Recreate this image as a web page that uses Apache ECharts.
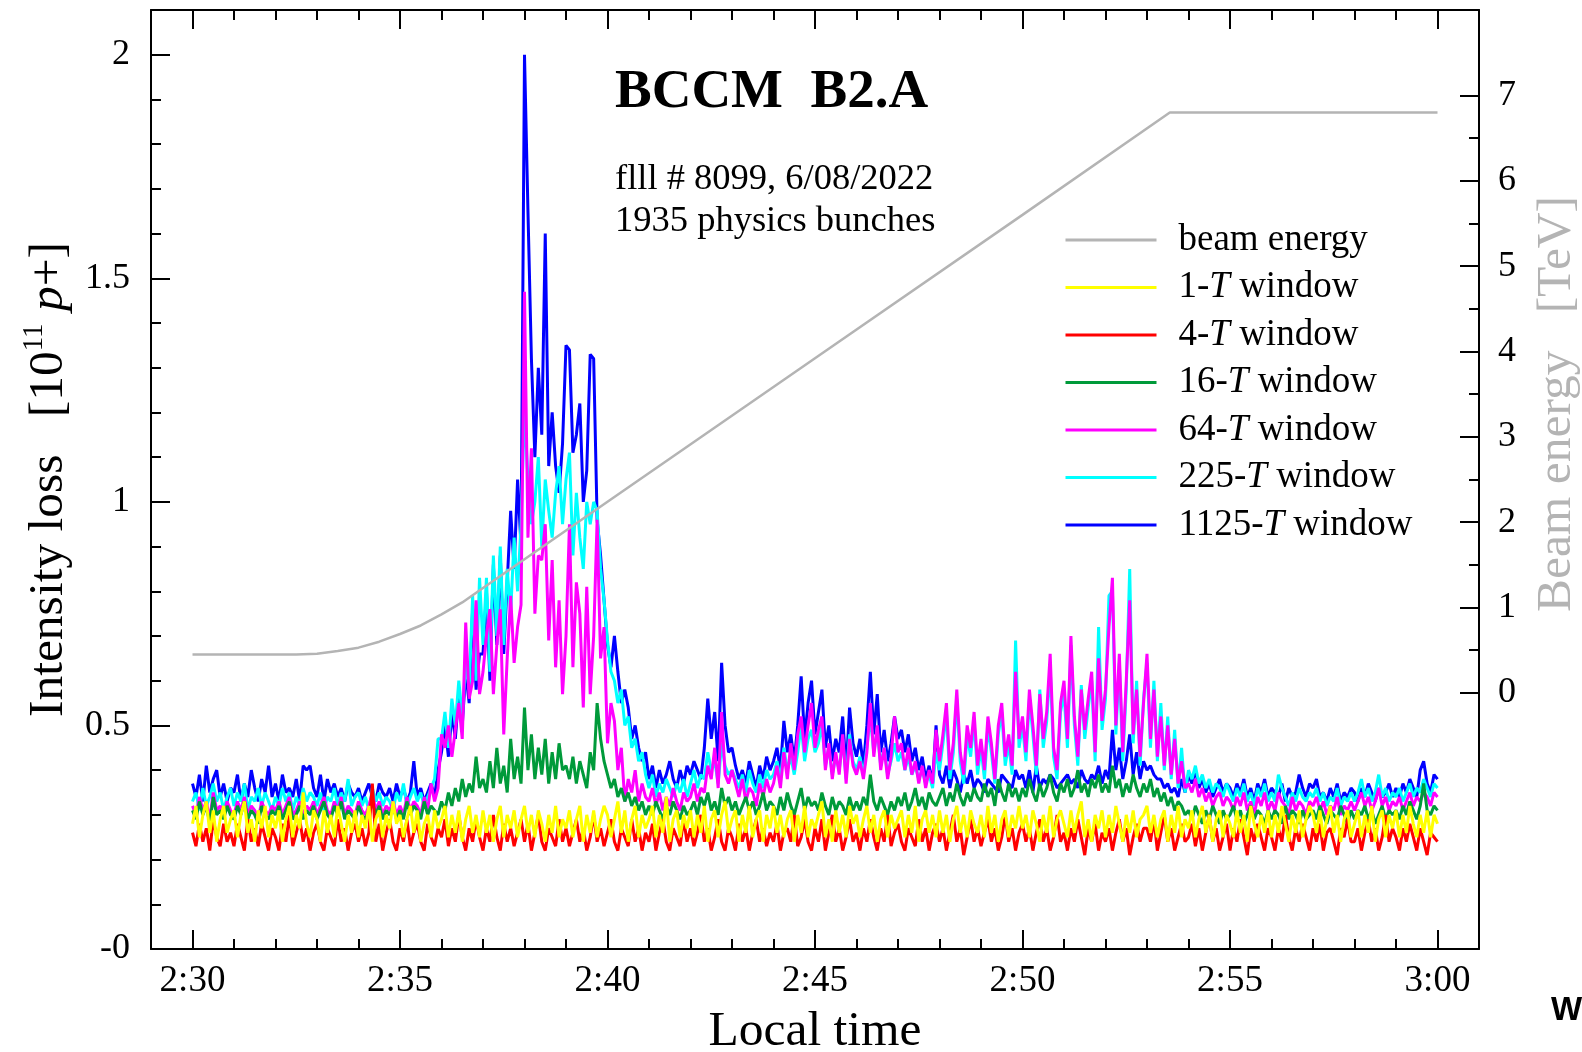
<!DOCTYPE html>
<html>
<head>
<meta charset="utf-8">
<title>BCCM B2.A intensity loss</title>
<script src="https://cdn.jsdelivr.net/npm/echarts@6/dist/echarts.min.js"></script>
<style>
    html, body { margin: 0; padding: 0; background: #fff; }
    #chart { width: 1582px; height: 1052px; }
</style>
</head>
<body>
<div id="chart"></div>
<script>

// one reading every 5 s, from 2:30:00 to 3:00:00 (time in minutes after midnight)
const start_min = 150;
const step_min = 5 / 60;

// intensity loss [1e11 p+], one line per minute (12 readings)
const loss_1125T = [
    0.37,0.34,0.39,0.33,0.41,0.35,0.38,0.40,0.34,0.37,0.33,0.36,
    0.35,0.39,0.33,0.37,0.34,0.40,0.36,0.33,0.38,0.35,0.41,0.34,
    0.37,0.33,0.39,0.35,0.36,0.34,0.38,0.33,0.41,0.40,0.41,0.36,
    0.34,0.39,0.33,0.38,0.35,0.37,0.34,0.36,0.33,0.37,0.35,0.34,
    0.36,0.33,0.35,0.37,0.34,0.33,0.37,0.35,0.34,0.36,0.33,0.37,
    0.34,0.36,0.33,0.35,0.42,0.34,0.36,0.33,0.35,0.37,0.34,0.40,
    0.44,0.50,0.43,0.53,0.47,0.57,0.50,0.62,0.55,0.76,0.58,0.66,
    0.66,0.80,0.60,0.86,0.68,0.88,0.66,0.82,0.98,0.85,1.05,0.90,
    2.00,1.65,1.32,1.10,1.30,1.15,1.60,1.08,1.20,1.08,1.02,1.13,
    1.35,1.34,1.11,1.15,1.22,1.00,1.07,1.33,1.32,0.96,0.88,0.78,
    0.68,0.63,0.70,0.62,0.55,0.58,0.54,0.47,0.50,0.45,0.42,0.44,
    0.38,0.41,0.36,0.40,0.37,0.39,0.42,0.38,0.36,0.40,0.37,0.41,
    0.39,0.42,0.40,0.38,0.45,0.56,0.47,0.53,0.42,0.64,0.50,0.44,
    0.45,0.41,0.38,0.40,0.37,0.42,0.39,0.36,0.41,0.38,0.43,0.40,
    0.42,0.45,0.40,0.51,0.44,0.48,0.42,0.50,0.61,0.47,0.55,0.60,
    0.48,0.53,0.58,0.45,0.50,0.42,0.47,0.44,0.52,0.40,0.54,0.46,
    0.43,0.47,0.41,0.50,0.62,0.48,0.57,0.44,0.49,0.42,0.46,0.52,
    0.47,0.49,0.44,0.48,0.42,0.45,0.40,0.43,0.38,0.41,0.37,0.50,
    0.39,0.37,0.41,0.36,0.40,0.38,0.35,0.39,0.37,0.40,0.36,0.38,
    0.37,0.35,0.38,0.37,0.36,0.35,0.39,0.38,0.37,0.36,0.40,0.38,
    0.39,0.36,0.40,0.35,0.41,0.36,0.38,0.37,0.39,0.38,0.36,0.37,
    0.38,0.39,0.37,0.38,0.36,0.40,0.38,0.37,0.39,0.38,0.41,0.37,
    0.40,0.38,0.49,0.40,0.45,0.38,0.42,0.48,0.39,0.44,0.38,0.42,
    0.40,0.41,0.39,0.38,0.38,0.36,0.37,0.35,0.36,0.34,0.38,0.35,
    0.39,0.37,0.40,0.36,0.38,0.35,0.37,0.34,0.36,0.38,0.35,0.37,
    0.36,0.34,0.37,0.35,0.38,0.34,0.36,0.33,0.37,0.35,0.38,0.34,
    0.36,0.35,0.34,0.37,0.33,0.36,0.34,0.35,0.39,0.36,0.34,0.37,
    0.36,0.38,0.34,0.35,0.33,0.36,0.34,0.37,0.33,0.35,0.34,0.36,
    0.35,0.33,0.36,0.34,0.37,0.35,0.33,0.36,0.34,0.35,0.37,0.34,
    0.36,0.34,0.37,0.35,0.38,0.36,0.34,0.40,0.42,0.37,0.35,0.39,
    0.38
];

const loss_225T = [
    0.33,0.35,0.31,0.36,0.32,0.34,0.37,0.33,0.35,0.31,0.34,0.36,
    0.32,0.35,0.33,0.37,0.31,0.34,0.33,0.36,0.32,0.35,0.33,0.31,
    0.34,0.32,0.36,0.33,0.35,0.31,0.34,0.32,0.36,0.33,0.35,0.34,
    0.32,0.35,0.31,0.34,0.33,0.36,0.32,0.35,0.33,0.38,0.32,0.34,
    0.35,0.32,0.34,0.31,0.36,0.33,0.35,0.32,0.34,0.33,0.31,0.35,
    0.33,0.37,0.32,0.34,0.36,0.33,0.35,0.32,0.34,0.36,0.38,0.47,
    0.47,0.53,0.45,0.56,0.50,0.60,0.52,0.64,0.58,0.79,0.60,0.83,
    0.68,0.83,0.62,0.88,0.70,0.90,0.68,0.85,0.75,0.92,0.80,0.95,
    1.21,1.05,0.95,1.00,1.10,0.90,1.05,0.98,0.92,1.02,1.08,0.95,
    1.05,1.11,0.88,1.02,0.92,0.85,1.00,0.95,1.00,0.98,0.85,0.78,
    0.69,0.62,0.60,0.55,0.58,0.50,0.52,0.45,0.47,0.42,0.44,0.39,
    0.36,0.39,0.34,0.37,0.35,0.38,0.36,0.34,0.37,0.35,0.38,0.34,
    0.37,0.40,0.36,0.39,0.38,0.44,0.40,0.42,0.37,0.46,0.41,0.39,
    0.40,0.38,0.36,0.39,0.35,0.40,0.37,0.35,0.39,0.36,0.40,0.38,
    0.39,0.42,0.38,0.45,0.40,0.43,0.39,0.44,0.50,0.42,0.47,0.49,
    0.44,0.46,0.50,0.41,0.45,0.39,0.43,0.40,0.47,0.38,0.48,0.42,
    0.40,0.43,0.39,0.45,0.52,0.44,0.49,0.41,0.45,0.39,0.42,0.46,
    0.42,0.44,0.40,0.43,0.39,0.41,0.38,0.40,0.37,0.39,0.36,0.44,
    0.40,0.46,0.53,0.38,0.44,0.56,0.42,0.37,0.48,0.43,0.51,0.39,
    0.45,0.38,0.50,0.44,0.37,0.48,0.53,0.41,0.46,0.39,0.69,0.45,
    0.50,0.42,0.56,0.48,0.39,0.58,0.45,0.51,0.63,0.43,0.38,0.53,
    0.57,0.45,0.68,0.50,0.41,0.59,0.47,0.54,0.60,0.42,0.72,0.49,
    0.56,0.79,0.80,0.48,0.64,0.42,0.58,0.85,0.46,0.60,0.41,0.56,
    0.64,0.45,0.60,0.42,0.55,0.40,0.52,0.38,0.49,0.36,0.45,0.35,
    0.40,0.38,0.41,0.37,0.39,0.36,0.38,0.35,0.37,0.36,0.34,0.37,
    0.35,0.33,0.36,0.34,0.37,0.33,0.35,0.32,0.36,0.34,0.37,0.33,
    0.35,0.33,0.39,0.36,0.34,0.32,0.35,0.33,0.36,0.34,0.33,0.35,
    0.34,0.36,0.33,0.35,0.32,0.34,0.33,0.36,0.32,0.34,0.33,0.35,
    0.33,0.35,0.38,0.34,0.36,0.33,0.35,0.39,0.34,0.36,0.33,0.35,
    0.34,0.36,0.33,0.35,0.37,0.34,0.36,0.35,0.38,0.36,0.34,0.37,
    0.36
];

const loss_64T = [
    0.32,0.30,0.34,0.31,0.33,0.29,0.35,0.31,0.32,0.30,0.33,0.31,
    0.30,0.33,0.31,0.34,0.30,0.32,0.31,0.29,0.33,0.31,0.30,0.32,
    0.31,0.33,0.30,0.32,0.34,0.30,0.31,0.33,0.30,0.32,0.31,0.33,
    0.30,0.32,0.34,0.31,0.30,0.33,0.31,0.34,0.30,0.32,0.31,0.30,
    0.33,0.31,0.30,0.32,0.35,0.31,0.33,0.30,0.32,0.31,0.33,0.30,
    0.32,0.30,0.34,0.31,0.33,0.32,0.30,0.34,0.31,0.37,0.33,0.36,
    0.48,0.45,0.50,0.43,0.49,0.55,0.47,0.73,0.56,0.60,0.78,0.57,
    0.62,0.70,0.76,0.57,0.68,0.76,0.48,0.65,0.79,0.64,0.72,0.77,
    1.47,0.92,1.12,0.75,0.88,0.87,0.95,0.69,0.87,0.63,0.78,0.57,
    0.70,0.95,0.63,0.82,0.75,0.54,0.81,0.57,0.70,0.96,0.65,0.72,
    0.46,0.55,0.51,0.40,0.45,0.33,0.38,0.35,0.40,0.33,0.37,0.34,
    0.33,0.36,0.32,0.35,0.31,0.34,0.32,0.36,0.33,0.31,0.35,0.33,
    0.34,0.37,0.33,0.36,0.35,0.41,0.38,0.45,0.36,0.53,0.39,0.37,
    0.40,0.37,0.34,0.38,0.33,0.36,0.35,0.32,0.37,0.34,0.38,0.35,
    0.37,0.41,0.36,0.44,0.38,0.46,0.40,0.48,0.52,0.44,0.50,0.55,
    0.45,0.49,0.52,0.40,0.46,0.38,0.44,0.39,0.48,0.37,0.47,0.41,
    0.39,0.42,0.38,0.44,0.55,0.43,0.50,0.40,0.45,0.38,0.43,0.52,
    0.44,0.46,0.40,0.45,0.39,0.42,0.37,0.41,0.36,0.40,0.37,0.49,
    0.42,0.48,0.55,0.40,0.46,0.58,0.44,0.39,0.50,0.45,0.53,0.41,
    0.47,0.40,0.52,0.46,0.38,0.50,0.55,0.43,0.48,0.41,0.62,0.47,
    0.52,0.44,0.58,0.50,0.41,0.57,0.47,0.53,0.66,0.45,0.40,0.55,
    0.60,0.47,0.70,0.52,0.43,0.58,0.49,0.56,0.62,0.44,0.65,0.51,
    0.58,0.72,0.83,0.50,0.66,0.44,0.60,0.78,0.48,0.58,0.43,0.55,
    0.66,0.47,0.58,0.43,0.52,0.41,0.50,0.39,0.47,0.37,0.42,0.36,
    0.37,0.35,0.38,0.34,0.36,0.33,0.35,0.32,0.34,0.35,0.32,0.34,
    0.33,0.31,0.34,0.32,0.35,0.31,0.33,0.30,0.34,0.32,0.35,0.31,
    0.33,0.31,0.35,0.33,0.32,0.30,0.34,0.31,0.33,0.32,0.30,0.33,
    0.32,0.34,0.31,0.33,0.30,0.32,0.31,0.34,0.30,0.32,0.31,0.33,
    0.31,0.33,0.35,0.32,0.34,0.31,0.33,0.36,0.32,0.34,0.31,0.33,
    0.32,0.34,0.31,0.33,0.35,0.32,0.34,0.33,0.35,0.34,0.32,0.35,
    0.34
];

const loss_16T = [
    0.31,0.29,0.33,0.30,0.32,0.28,0.34,0.30,0.31,0.29,0.32,0.30,
    0.29,0.32,0.30,0.33,0.29,0.31,0.30,0.28,0.32,0.30,0.29,0.31,
    0.30,0.32,0.29,0.31,0.33,0.29,0.30,0.32,0.29,0.31,0.30,0.32,
    0.29,0.31,0.33,0.30,0.29,0.32,0.30,0.33,0.29,0.31,0.30,0.29,
    0.32,0.30,0.29,0.31,0.33,0.30,0.32,0.29,0.31,0.30,0.32,0.29,
    0.31,0.29,0.33,0.30,0.32,0.31,0.29,0.33,0.30,0.32,0.31,0.30,
    0.33,0.31,0.35,0.32,0.36,0.33,0.38,0.34,0.37,0.35,0.43,0.36,
    0.38,0.35,0.42,0.36,0.45,0.37,0.41,0.35,0.47,0.38,0.43,0.37,
    0.54,0.40,0.48,0.38,0.45,0.39,0.47,0.37,0.44,0.38,0.46,0.40,
    0.41,0.38,0.43,0.37,0.42,0.39,0.36,0.44,0.40,0.55,0.47,0.42,
    0.39,0.36,0.38,0.34,0.36,0.33,0.35,0.32,0.34,0.31,0.33,0.30,
    0.32,0.30,0.33,0.31,0.29,0.32,0.30,0.33,0.31,0.29,0.32,0.30,
    0.31,0.33,0.30,0.34,0.32,0.35,0.31,0.33,0.30,0.36,0.32,0.34,
    0.31,0.33,0.30,0.32,0.34,0.31,0.33,0.30,0.32,0.35,0.31,0.33,
    0.32,0.30,0.34,0.31,0.35,0.32,0.30,0.33,0.36,0.31,0.34,0.32,
    0.33,0.31,0.35,0.32,0.30,0.34,0.31,0.33,0.32,0.30,0.34,0.31,
    0.33,0.31,0.34,0.32,0.39,0.33,0.31,0.34,0.32,0.30,0.33,0.31,
    0.34,0.32,0.35,0.31,0.33,0.36,0.32,0.34,0.31,0.35,0.33,0.32,
    0.34,0.36,0.32,0.35,0.33,0.37,0.34,0.32,0.35,0.33,0.36,0.34,
    0.33,0.37,0.34,0.36,0.32,0.38,0.35,0.33,0.37,0.34,0.36,0.33,
    0.36,0.34,0.38,0.35,0.33,0.37,0.34,0.36,0.39,0.35,0.33,0.37,
    0.35,0.38,0.34,0.36,0.40,0.35,0.37,0.34,0.38,0.36,0.39,0.35,
    0.37,0.35,0.41,0.36,0.38,0.34,0.37,0.35,0.39,0.36,0.34,0.37,
    0.35,0.38,0.34,0.36,0.33,0.35,0.32,0.34,0.31,0.33,0.32,0.30,
    0.31,0.29,0.32,0.30,0.28,0.31,0.29,0.32,0.30,0.28,0.31,0.29,
    0.30,0.32,0.29,0.31,0.28,0.30,0.32,0.29,0.31,0.30,0.28,0.31,
    0.29,0.31,0.30,0.28,0.32,0.29,0.31,0.30,0.28,0.31,0.29,0.30,
    0.31,0.29,0.32,0.30,0.28,0.31,0.30,0.29,0.32,0.30,0.28,0.31,
    0.29,0.31,0.30,0.32,0.29,0.31,0.28,0.30,0.32,0.29,0.31,0.30,
    0.31,0.29,0.32,0.30,0.33,0.31,0.29,0.32,0.37,0.31,0.30,0.32,
    0.31
];

const loss_4T = [
    0.26,0.23,0.28,0.24,0.27,0.22,0.29,0.25,0.23,0.28,0.24,0.26,
    0.23,0.28,0.25,0.22,0.29,0.24,0.27,0.23,0.28,0.25,0.22,0.27,
    0.25,0.22,0.28,0.24,0.30,0.23,0.26,0.29,0.24,0.27,0.22,0.26,
    0.28,0.24,0.22,0.27,0.25,0.23,0.29,0.24,0.27,0.22,0.26,0.28,
    0.24,0.27,0.23,0.26,0.37,0.24,0.28,0.22,0.26,0.29,0.24,0.22,
    0.27,0.24,0.29,0.23,0.26,0.28,0.24,0.22,0.28,0.25,0.23,0.27,
    0.25,0.29,0.23,0.27,0.24,0.30,0.25,0.22,0.27,0.24,0.29,0.25,
    0.22,0.27,0.24,0.30,0.25,0.22,0.28,0.24,0.27,0.23,0.26,0.29,
    0.24,0.28,0.22,0.26,0.30,0.24,0.22,0.27,0.25,0.23,0.29,0.24,
    0.27,0.23,0.26,0.29,0.24,0.27,0.22,0.25,0.30,0.24,0.27,0.23,
    0.26,0.29,0.24,0.22,0.27,0.25,0.23,0.29,0.24,0.27,0.22,0.26,
    0.24,0.28,0.22,0.26,0.29,0.24,0.22,0.27,0.25,0.23,0.29,0.24,
    0.27,0.23,0.26,0.30,0.24,0.27,0.22,0.25,0.29,0.24,0.22,0.27,
    0.25,0.22,0.28,0.24,0.27,0.22,0.26,0.29,0.24,0.27,0.23,0.26,
    0.24,0.28,0.22,0.26,0.27,0.24,0.30,0.23,0.25,0.29,0.24,0.22,
    0.27,0.24,0.29,0.22,0.26,0.30,0.24,0.27,0.22,0.25,0.29,0.24,
    0.26,0.22,0.27,0.24,0.29,0.25,0.22,0.27,0.24,0.30,0.23,0.26,
    0.28,0.24,0.22,0.27,0.25,0.23,0.29,0.24,0.27,0.22,0.26,0.28,
    0.24,0.27,0.22,0.26,0.30,0.24,0.27,0.21,0.25,0.29,0.24,0.27,
    0.23,0.26,0.29,0.24,0.27,0.22,0.25,0.30,0.24,0.27,0.22,0.26,
    0.28,0.24,0.27,0.22,0.26,0.29,0.24,0.27,0.22,0.25,0.30,0.24,
    0.26,0.22,0.27,0.24,0.29,0.25,0.21,0.27,0.24,0.28,0.22,0.26,
    0.24,0.27,0.22,0.26,0.29,0.24,0.27,0.21,0.25,0.28,0.24,0.27,
    0.27,0.24,0.29,0.22,0.26,0.30,0.24,0.27,0.22,0.25,0.28,0.24,
    0.25,0.28,0.23,0.27,0.22,0.26,0.30,0.24,0.27,0.22,0.25,0.28,
    0.22,0.27,0.24,0.29,0.25,0.21,0.27,0.24,0.28,0.25,0.22,0.27,
    0.25,0.22,0.27,0.24,0.30,0.25,0.22,0.27,0.24,0.28,0.25,0.22,
    0.27,0.24,0.28,0.22,0.26,0.27,0.24,0.21,0.27,0.25,0.29,0.24,
    0.24,0.27,0.22,0.26,0.29,0.24,0.27,0.22,0.25,0.30,0.24,0.27,
    0.25,0.22,0.27,0.24,0.28,0.25,0.22,0.27,0.24,0.21,0.26,0.25,
    0.24
];

const loss_1T = [
    0.28,0.32,0.25,0.30,0.33,0.26,0.31,0.24,0.29,0.32,0.26,0.29,
    0.31,0.25,0.30,0.33,0.26,0.29,0.24,0.31,0.27,0.32,0.25,0.30,
    0.27,0.31,0.24,0.29,0.32,0.25,0.30,0.27,0.35,0.28,0.25,0.31,
    0.29,0.24,0.31,0.26,0.30,0.25,0.32,0.28,0.24,0.30,0.26,0.31,
    0.25,0.30,0.27,0.32,0.24,0.29,0.31,0.25,0.30,0.27,0.33,0.28,
    0.30,0.25,0.29,0.32,0.26,0.31,0.24,0.28,0.30,0.25,0.31,0.27,
    0.29,0.32,0.25,0.30,0.26,0.31,0.24,0.29,0.32,0.26,0.30,0.25,
    0.31,0.26,0.30,0.24,0.29,0.32,0.25,0.30,0.27,0.31,0.25,0.29,
    0.32,0.26,0.30,0.25,0.31,0.28,0.24,0.30,0.26,0.32,0.25,0.29,
    0.27,0.31,0.25,0.29,0.32,0.24,0.30,0.26,0.31,0.25,0.29,0.32,
    0.30,0.25,0.29,0.33,0.26,0.31,0.24,0.29,0.32,0.25,0.30,0.27,
    0.29,0.32,0.25,0.30,0.26,0.34,0.24,0.29,0.31,0.25,0.30,0.27,
    0.31,0.25,0.30,0.26,0.32,0.24,0.29,0.31,0.25,0.30,0.33,0.26,
    0.29,0.31,0.24,0.30,0.26,0.32,0.25,0.29,0.31,0.24,0.30,0.27,
    0.32,0.26,0.30,0.25,0.29,0.31,0.24,0.30,0.26,0.32,0.25,0.29,
    0.27,0.30,0.33,0.25,0.29,0.24,0.31,0.26,0.30,0.25,0.32,0.28,
    0.30,0.25,0.29,0.32,0.26,0.30,0.24,0.29,0.31,0.25,0.30,0.27,
    0.29,0.31,0.25,0.30,0.26,0.32,0.24,0.29,0.31,0.26,0.30,0.25,
    0.31,0.26,0.30,0.24,0.29,0.32,0.26,0.30,0.25,0.31,0.28,0.26,
    0.30,0.25,0.32,0.26,0.30,0.24,0.29,0.31,0.25,0.30,0.27,0.32,
    0.27,0.30,0.25,0.31,0.28,0.24,0.30,0.26,0.32,0.25,0.29,0.31,
    0.28,0.25,0.31,0.26,0.30,0.33,0.25,0.29,0.24,0.30,0.27,0.31,
    0.25,0.30,0.26,0.32,0.28,0.24,0.30,0.26,0.31,0.25,0.29,0.30,
    0.32,0.26,0.30,0.25,0.29,0.31,0.24,0.30,0.26,0.32,0.25,0.29,
    0.27,0.31,0.25,0.29,0.32,0.26,0.30,0.24,0.29,0.31,0.25,0.30,
    0.28,0.25,0.31,0.26,0.30,0.24,0.32,0.28,0.25,0.30,0.26,0.31,
    0.25,0.30,0.26,0.32,0.28,0.24,0.30,0.26,0.31,0.25,0.29,0.32,
    0.30,0.26,0.31,0.25,0.29,0.32,0.26,0.30,0.24,0.29,0.31,0.25,
    0.28,0.31,0.25,0.30,0.26,0.32,0.24,0.29,0.31,0.25,0.30,0.27,
    0.31,0.25,0.30,0.26,0.32,0.28,0.25,0.30,0.26,0.31,0.25,0.30,
    0.28
];

// beam energy [TeV], read at the corners of the ramp
const beam_time = [150, 152.5, 153, 153.5, 154, 154.5, 155, 155.5, 156, 156.5, 157, 160, 165, 170, 173.55, 180];
const beam_energy = [0.45, 0.45, 0.46, 0.49, 0.53, 0.60, 0.69, 0.79, 0.92, 1.06, 1.23, 2.24, 3.92, 5.60, 6.80, 6.80];

// ticks and labels
const x_major = [150, 155, 160, 165, 170, 175, 180];
const x_minor = [150,151,152,153,154,155,156,157,158,159,160,161,162,163,164,165,166,167,168,169,170,171,172,173,174,175,176,177,178,179,180];
const y_major = [0, 0.5, 1, 1.5, 2];
const y_minor = [0.1,0.2,0.3,0.4,0.5,0.6,0.7,0.8,0.9,1.0,1.1,1.2,1.3,1.4,1.5,1.6,1.7,1.8,1.9,2.0];
const e_major = [0, 1, 2, 3, 4, 5, 6, 7];
const e_minor = [0.5, 1.5, 2.5, 3.5, 4.5, 5.5, 6.5];

const FONT = "'Liberation Serif', 'Times New Roman', serif";
const BLACK = '#000';
const GREY = '#b4b4b4';

function clock(v){
    let m = v % 60;
    return Math.floor(v / 60) + ':' + (m < 10 ? '0' + m : m);
}

function pairs(values){
    return values.map(function(v, i){ return [start_min + i * step_min, v]; });
}

function tick_style(len, values){
    return { inside: true, length: len, customValues: values, lineStyle: { color: BLACK, width: 2 } };
}

function x_axis(position, major){
    return {
        type: 'value', min: 149, max: 181, position: position,
        axisLine: { show: major, onZero: false, lineStyle: { color: BLACK, width: 2 } },
        axisTick: major ? tick_style(19, x_major) : tick_style(10, x_minor),
        axisLabel: { show: false },
        splitLine: { show: false }
    };
}

function y_axis(position, min, max, line, ticks){
    return {
        type: 'value', min: min, max: max, position: position,
        axisLine: { show: line, onZero: false, lineStyle: { color: BLACK, width: 2 } },
        axisTick: ticks,
        axisLabel: { show: false },
        splitLine: { show: false }
    };
}

function loss_series(name, color, values){
    return {
        name: name,
        type: 'line',
        xAxisIndex: 0,
        yAxisIndex: 0,
        data: pairs(values),
        symbol: 'none',
        lineStyle: { color: color, width: 3 },
        itemStyle: { color: color },
        silent: true
    };
}

// bottom axis with labels and title
let x_bottom = x_axis('bottom', true);
x_bottom.axisLabel = {
    customValues: x_major, formatter: clock,
    fontFamily: FONT, fontSize: 37, color: BLACK, margin: 14
};
x_bottom.name = 'Local time';
x_bottom.nameLocation = 'middle';
x_bottom.nameGap = 58;
x_bottom.nameTextStyle = { fontFamily: FONT, fontSize: 49.5, color: BLACK };

// left axis: intensity loss
let y_left = y_axis('left', 0, 2.1, true, tick_style(19, y_major));
y_left.axisLabel = {
    customValues: y_major,
    formatter: function(v){ return v === 0 ? '-0' : String(v); },
    fontFamily: FONT, fontSize: 36, color: BLACK, margin: 21
};
y_left.name = '{a|Intensity loss   [10}{s|11}{a| }{i|p}{a|+]}';
y_left.nameLocation = 'middle';
y_left.nameRotate = 90;
y_left.nameGap = 69;
y_left.nameTextStyle = {
    fontFamily: FONT, fontSize: 49.5, color: BLACK,
    rich: {
        a: { fontFamily: FONT, fontSize: 49.5, lineHeight: 58, color: BLACK },
        s: { fontFamily: FONT, fontSize: 29, lineHeight: 29, verticalAlign: 'top', color: BLACK },
        i: { fontFamily: FONT, fontSize: 49.5, lineHeight: 58, fontStyle: 'italic', color: BLACK }
    }
};

// right axis: beam energy
let y_right = y_axis('right', -3, 8, true, tick_style(19, e_major));
y_right.axisLabel = {
    customValues: e_major,
    fontFamily: FONT, fontSize: 36, color: BLACK, margin: 19
};

let italic_rich = { i: { fontFamily: FONT, fontSize: 37, lineHeight: 40, fontStyle: 'italic', color: BLACK } };

let options = {
    animation: false,
    backgroundColor: '#fff',
    grid: { left: 151, top: 10, width: 1328, height: 939, containLabel: false, outerBoundsMode: 'none' },
    xAxis: [
        x_bottom,
        x_axis('bottom', false),
        x_axis('top', true),
        x_axis('top', false)
    ],
    yAxis: [
        y_left,
        y_axis('left', 0, 2.1, false, tick_style(10, y_minor)),
        y_right,
        y_axis('right', -3, 8, false, tick_style(10, e_minor))
    ],
    legend: {
        orient: 'vertical',
        left: 1064,
        top: 220,
        padding: 0,
        itemWidth: 91,
        itemHeight: 14,
        itemGap: 7.5,
        selectedMode: false,
        lineStyle: { width: 3 },
        itemStyle: { opacity: 0 },
        data: ['beam energy', '1-T window', '4-T window', '16-T window', '64-T window', '225-T window', '1125-T window'],
        formatter: function(name){ return name.replace('-T', '-{i|T}'); },
        textStyle: {
            fontFamily: FONT, fontSize: 37, lineHeight: 40, color: BLACK,
            padding: [0, 0, 0, 17],
            rich: italic_rich
        }
    },
    graphic: [
        {
            type: 'text', x: 615, y: 93,
            style: { text: 'BCCM  B2.A', font: 'bold 55px ' + FONT, fill: BLACK, verticalAlign: 'middle' }
        },
        {
            type: 'text', x: 615, y: 179,
            style: { text: 'flll # 8099, 6/08/2022', font: '36.5px ' + FONT, fill: BLACK, verticalAlign: 'middle' }
        },
        {
            type: 'text', x: 615, y: 221,
            style: { text: '1935 physics bunches', font: '36.5px ' + FONT, fill: BLACK, verticalAlign: 'middle' }
        },
        {
            type: 'text', x: 1557, y: 404, rotation: Math.PI / 2,
            style: { text: 'Beam energy   [TeV]', font: '49.5px ' + FONT, fill: GREY, align: 'center', verticalAlign: 'middle' }
        },
        {
            type: 'text', x: 1551, y: 1011,
            style: { text: 'W', font: 'bold 33px "Liberation Sans", Arial, sans-serif', fill: BLACK, verticalAlign: 'middle' }
        }
    ],
    // drawn bottom to top: the widest window first, beam energy last
    series: [
        loss_series('1125-T window', '#0000ff', loss_1125T),
        loss_series('225-T window', '#00ffff', loss_225T),
        loss_series('64-T window', '#ff00ff', loss_64T),
        loss_series('16-T window', '#009a3a', loss_16T),
        loss_series('4-T window', '#ff0000', loss_4T),
        loss_series('1-T window', '#ffff00', loss_1T),
        {
            name: 'beam energy',
            type: 'line',
            xAxisIndex: 0,
            yAxisIndex: 2,
            data: beam_time.map(function(t, i){ return [t, beam_energy[i]]; }),
            symbol: 'none',
            lineStyle: { color: GREY, width: 2.5 },
            itemStyle: { color: GREY },
            silent: true
        }
    ]
};

echarts.init(document.getElementById('chart')).setOption(options);

</script>
</body>
</html>
